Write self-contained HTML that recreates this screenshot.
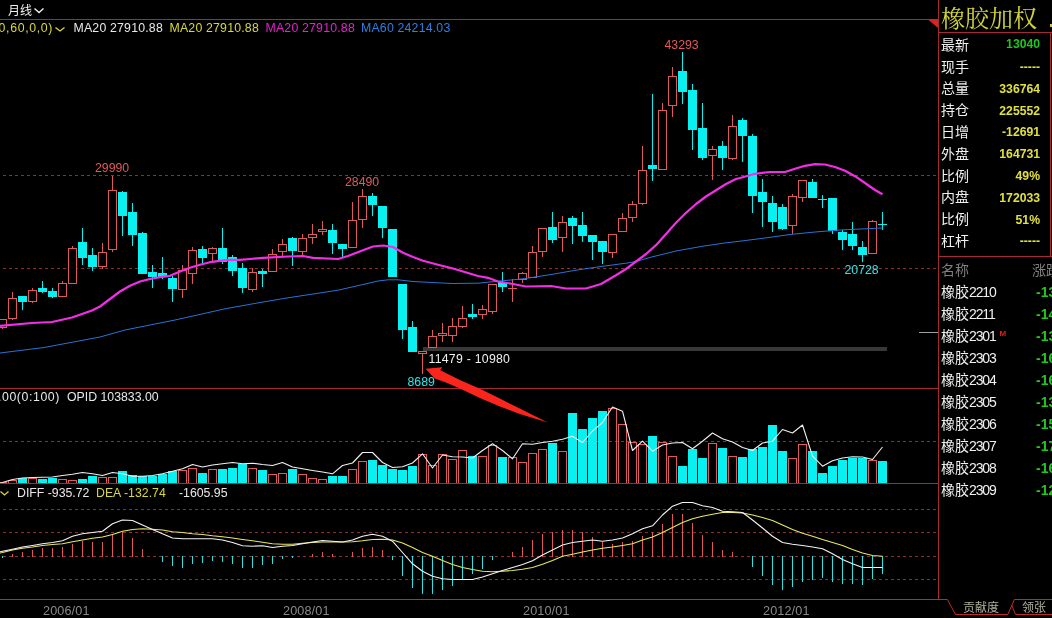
<!DOCTYPE html>
<html lang="zh-CN"><head><meta charset="utf-8"><title>橡胶加权 月线</title>
<style>
html,body{margin:0;padding:0;background:#000;width:1052px;height:618px;overflow:hidden}
svg{will-change:transform}
svg text{white-space:pre}
</style></head><body>
<svg width="1052" height="618" viewBox="0 0 1052 618" style="position:absolute;left:0;top:0">
<rect width="1052" height="618" fill="#000"/>
<g stroke="#863236" stroke-width="1" stroke-dasharray="3 3" stroke-dashoffset="3" shape-rendering="crispEdges">
<line x1="0" y1="175.5" x2="938" y2="175.5"/>
<line x1="0" y1="268.5" x2="938" y2="268.5"/>
<line x1="0" y1="441.5" x2="938" y2="441.5"/>
<line x1="0" y1="509.5" x2="938" y2="509.5"/>
<line x1="0" y1="532.5" x2="938" y2="532.5"/>
<line x1="0" y1="556.5" x2="938" y2="556.5"/>
<line x1="0" y1="579.5" x2="938" y2="579.5"/>
</g>
<rect x="423" y="347" width="464" height="4" fill="#383838" shape-rendering="crispEdges"/>
<rect x="919" y="332" width="19" height="1" fill="#a0a0a0" shape-rendering="crispEdges"/>
<g shape-rendering="crispEdges">
<rect x="2" y="328" width="1" height="1" fill="#de5a5e"/>
<rect x="-1.5" y="319.5" width="8" height="8" fill="#000" stroke="#de5a5e" stroke-width="1"/>
<rect x="12" y="292" width="1" height="6" fill="#de5a5e"/>
<rect x="12" y="319" width="1" height="1" fill="#de5a5e"/>
<rect x="8.5" y="298.5" width="8" height="20" fill="#000" stroke="#de5a5e" stroke-width="1"/>
<rect x="22" y="296" width="1" height="14" fill="#08f0f0"/>
<rect x="18" y="296" width="9" height="6" fill="#08f0f0"/>
<rect x="32" y="288" width="1" height="2" fill="#de5a5e"/>
<rect x="32" y="302" width="1" height="1" fill="#de5a5e"/>
<rect x="28.5" y="290.5" width="8" height="11" fill="#000" stroke="#de5a5e" stroke-width="1"/>
<rect x="42" y="281" width="1" height="12" fill="#08f0f0"/>
<rect x="38" y="288" width="9" height="4" fill="#08f0f0"/>
<rect x="52" y="288" width="1" height="10" fill="#08f0f0"/>
<rect x="48" y="291" width="9" height="6" fill="#08f0f0"/>
<rect x="62" y="281" width="1" height="2" fill="#de5a5e"/>
<rect x="58.5" y="283.5" width="8" height="13" fill="#000" stroke="#de5a5e" stroke-width="1"/>
<rect x="72" y="246" width="1" height="2" fill="#de5a5e"/>
<rect x="68.5" y="248.5" width="8" height="35" fill="#000" stroke="#de5a5e" stroke-width="1"/>
<rect x="82" y="228" width="1" height="37" fill="#08f0f0"/>
<rect x="78" y="242" width="9" height="16" fill="#08f0f0"/>
<rect x="92" y="248" width="1" height="23" fill="#08f0f0"/>
<rect x="88" y="255" width="9" height="12" fill="#08f0f0"/>
<rect x="102" y="243" width="1" height="9" fill="#de5a5e"/>
<rect x="102" y="267" width="1" height="2" fill="#de5a5e"/>
<rect x="98.5" y="252.5" width="8" height="14" fill="#000" stroke="#de5a5e" stroke-width="1"/>
<rect x="112" y="176" width="1" height="14" fill="#de5a5e"/>
<rect x="112" y="250" width="1" height="2" fill="#de5a5e"/>
<rect x="108.5" y="190.5" width="8" height="59" fill="#000" stroke="#de5a5e" stroke-width="1"/>
<rect x="122" y="191" width="1" height="45" fill="#08f0f0"/>
<rect x="118" y="192" width="9" height="24" fill="#08f0f0"/>
<rect x="132" y="203" width="1" height="43" fill="#08f0f0"/>
<rect x="128" y="212" width="9" height="23" fill="#08f0f0"/>
<rect x="142" y="232" width="1" height="42" fill="#08f0f0"/>
<rect x="138" y="233" width="9" height="41" fill="#08f0f0"/>
<rect x="152" y="265" width="1" height="23" fill="#08f0f0"/>
<rect x="148" y="272" width="9" height="5" fill="#08f0f0"/>
<rect x="162" y="257" width="1" height="22" fill="#08f0f0"/>
<rect x="158" y="273" width="9" height="4" fill="#08f0f0"/>
<rect x="172" y="276" width="1" height="26" fill="#08f0f0"/>
<rect x="168" y="278" width="9" height="11" fill="#08f0f0"/>
<rect x="182" y="265" width="1" height="5" fill="#de5a5e"/>
<rect x="182" y="290" width="1" height="8" fill="#de5a5e"/>
<rect x="178.5" y="270.5" width="8" height="19" fill="#000" stroke="#de5a5e" stroke-width="1"/>
<rect x="192" y="247" width="1" height="3" fill="#de5a5e"/>
<rect x="192" y="274" width="1" height="10" fill="#de5a5e"/>
<rect x="188.5" y="250.5" width="8" height="23" fill="#000" stroke="#de5a5e" stroke-width="1"/>
<rect x="202" y="246" width="1" height="18" fill="#08f0f0"/>
<rect x="198" y="249" width="9" height="9" fill="#08f0f0"/>
<rect x="212" y="247" width="1" height="1" fill="#de5a5e"/>
<rect x="212" y="254" width="1" height="8" fill="#de5a5e"/>
<rect x="208.5" y="248.5" width="8" height="5" fill="#000" stroke="#de5a5e" stroke-width="1"/>
<rect x="222" y="228" width="1" height="36" fill="#08f0f0"/>
<rect x="218" y="248" width="9" height="14" fill="#08f0f0"/>
<rect x="232" y="255" width="1" height="21" fill="#08f0f0"/>
<rect x="228" y="257" width="9" height="14" fill="#08f0f0"/>
<rect x="242" y="263" width="1" height="30" fill="#08f0f0"/>
<rect x="238" y="268" width="9" height="20" fill="#08f0f0"/>
<rect x="252" y="268" width="1" height="4" fill="#de5a5e"/>
<rect x="252" y="290" width="1" height="2" fill="#de5a5e"/>
<rect x="248.5" y="272.5" width="8" height="17" fill="#000" stroke="#de5a5e" stroke-width="1"/>
<rect x="262" y="269" width="1" height="18" fill="#08f0f0"/>
<rect x="258" y="271" width="9" height="3" fill="#08f0f0"/>
<rect x="272" y="249" width="1" height="5" fill="#de5a5e"/>
<rect x="268.5" y="254.5" width="8" height="17" fill="#000" stroke="#de5a5e" stroke-width="1"/>
<rect x="282" y="239" width="1" height="5" fill="#de5a5e"/>
<rect x="282" y="252" width="1" height="5" fill="#de5a5e"/>
<rect x="278.5" y="244.5" width="8" height="7" fill="#000" stroke="#de5a5e" stroke-width="1"/>
<rect x="292" y="237" width="1" height="29" fill="#08f0f0"/>
<rect x="288" y="238" width="9" height="13" fill="#08f0f0"/>
<rect x="302" y="234" width="1" height="4" fill="#de5a5e"/>
<rect x="302" y="252" width="1" height="3" fill="#de5a5e"/>
<rect x="298.5" y="238.5" width="8" height="13" fill="#000" stroke="#de5a5e" stroke-width="1"/>
<rect x="312" y="224" width="1" height="10" fill="#de5a5e"/>
<rect x="312" y="238" width="1" height="6" fill="#de5a5e"/>
<rect x="308.5" y="234.5" width="8" height="3" fill="#000" stroke="#de5a5e" stroke-width="1"/>
<rect x="322" y="221" width="1" height="8" fill="#de5a5e"/>
<rect x="322" y="232" width="1" height="3" fill="#de5a5e"/>
<rect x="318.5" y="229.5" width="8" height="2" fill="#000" stroke="#de5a5e" stroke-width="1"/>
<rect x="332" y="224" width="1" height="30" fill="#08f0f0"/>
<rect x="328" y="230" width="9" height="13" fill="#08f0f0"/>
<rect x="342" y="244" width="1" height="13" fill="#08f0f0"/>
<rect x="338" y="244" width="9" height="5" fill="#08f0f0"/>
<rect x="352" y="202" width="1" height="18" fill="#de5a5e"/>
<rect x="348.5" y="220.5" width="8" height="27" fill="#000" stroke="#de5a5e" stroke-width="1"/>
<rect x="362" y="189" width="1" height="7" fill="#de5a5e"/>
<rect x="362" y="220" width="1" height="8" fill="#de5a5e"/>
<rect x="358.5" y="196.5" width="8" height="23" fill="#000" stroke="#de5a5e" stroke-width="1"/>
<rect x="372" y="193" width="1" height="23" fill="#08f0f0"/>
<rect x="368" y="196" width="9" height="9" fill="#08f0f0"/>
<rect x="382" y="206" width="1" height="32" fill="#08f0f0"/>
<rect x="378" y="206" width="9" height="22" fill="#08f0f0"/>
<rect x="392" y="229" width="1" height="48" fill="#08f0f0"/>
<rect x="388" y="229" width="9" height="48" fill="#08f0f0"/>
<rect x="402" y="284" width="1" height="55" fill="#08f0f0"/>
<rect x="398" y="284" width="9" height="46" fill="#08f0f0"/>
<rect x="412" y="321" width="1" height="31" fill="#08f0f0"/>
<rect x="408" y="327" width="9" height="25" fill="#08f0f0"/>
<rect x="422" y="354" width="1" height="20" fill="#de5a5e"/>
<rect x="418.5" y="351.5" width="8" height="2" fill="#000" stroke="#de5a5e" stroke-width="1"/>
<rect x="432" y="330" width="1" height="6" fill="#de5a5e"/>
<rect x="428.5" y="336.5" width="8" height="11" fill="#000" stroke="#de5a5e" stroke-width="1"/>
<rect x="442" y="323" width="1" height="10" fill="#de5a5e"/>
<rect x="442" y="336" width="1" height="6" fill="#de5a5e"/>
<rect x="438.5" y="333.5" width="8" height="2" fill="#000" stroke="#de5a5e" stroke-width="1"/>
<rect x="452" y="318" width="1" height="8" fill="#de5a5e"/>
<rect x="452" y="336" width="1" height="6" fill="#de5a5e"/>
<rect x="448.5" y="326.5" width="8" height="9" fill="#000" stroke="#de5a5e" stroke-width="1"/>
<rect x="462" y="306" width="1" height="12" fill="#de5a5e"/>
<rect x="462" y="327" width="1" height="1" fill="#de5a5e"/>
<rect x="458.5" y="318.5" width="8" height="8" fill="#000" stroke="#de5a5e" stroke-width="1"/>
<rect x="472" y="304" width="1" height="15" fill="#08f0f0"/>
<rect x="468" y="314" width="9" height="3" fill="#08f0f0"/>
<rect x="482" y="305" width="1" height="4" fill="#de5a5e"/>
<rect x="482" y="315" width="1" height="4" fill="#de5a5e"/>
<rect x="478.5" y="309.5" width="8" height="5" fill="#000" stroke="#de5a5e" stroke-width="1"/>
<rect x="492" y="312" width="1" height="2" fill="#de5a5e"/>
<rect x="488.5" y="284.5" width="8" height="27" fill="#000" stroke="#de5a5e" stroke-width="1"/>
<rect x="502" y="272" width="1" height="20" fill="#08f0f0"/>
<rect x="498" y="282" width="9" height="5" fill="#08f0f0"/>
<rect x="512" y="279" width="1" height="9" fill="#de5a5e"/>
<rect x="512" y="289" width="1" height="13" fill="#de5a5e"/>
<rect x="508" y="288" width="9" height="1" fill="#de5a5e"/>
<rect x="522" y="272" width="1" height="1" fill="#de5a5e"/>
<rect x="522" y="280" width="1" height="3" fill="#de5a5e"/>
<rect x="518.5" y="273.5" width="8" height="6" fill="#000" stroke="#de5a5e" stroke-width="1"/>
<rect x="532" y="246" width="1" height="6" fill="#de5a5e"/>
<rect x="528.5" y="252.5" width="8" height="25" fill="#000" stroke="#de5a5e" stroke-width="1"/>
<rect x="542" y="252" width="1" height="5" fill="#de5a5e"/>
<rect x="538.5" y="228.5" width="8" height="23" fill="#000" stroke="#de5a5e" stroke-width="1"/>
<rect x="552" y="212" width="1" height="31" fill="#08f0f0"/>
<rect x="548" y="227" width="9" height="13" fill="#08f0f0"/>
<rect x="562" y="216" width="1" height="6" fill="#de5a5e"/>
<rect x="562" y="238" width="1" height="14" fill="#de5a5e"/>
<rect x="558.5" y="222.5" width="8" height="15" fill="#000" stroke="#de5a5e" stroke-width="1"/>
<rect x="572" y="216" width="1" height="28" fill="#08f0f0"/>
<rect x="568" y="218" width="9" height="8" fill="#08f0f0"/>
<rect x="582" y="212" width="1" height="30" fill="#08f0f0"/>
<rect x="578" y="225" width="9" height="11" fill="#08f0f0"/>
<rect x="592" y="235" width="1" height="25" fill="#08f0f0"/>
<rect x="588" y="235" width="9" height="7" fill="#08f0f0"/>
<rect x="602" y="241" width="1" height="23" fill="#08f0f0"/>
<rect x="598" y="241" width="9" height="11" fill="#08f0f0"/>
<rect x="612" y="253" width="1" height="5" fill="#de5a5e"/>
<rect x="608.5" y="234.5" width="8" height="18" fill="#000" stroke="#de5a5e" stroke-width="1"/>
<rect x="622" y="213" width="1" height="5" fill="#de5a5e"/>
<rect x="618.5" y="218.5" width="8" height="13" fill="#000" stroke="#de5a5e" stroke-width="1"/>
<rect x="632" y="201" width="1" height="3" fill="#de5a5e"/>
<rect x="632" y="218" width="1" height="4" fill="#de5a5e"/>
<rect x="628.5" y="204.5" width="8" height="13" fill="#000" stroke="#de5a5e" stroke-width="1"/>
<rect x="642" y="146" width="1" height="24" fill="#de5a5e"/>
<rect x="642" y="204" width="1" height="1" fill="#de5a5e"/>
<rect x="638.5" y="170.5" width="8" height="33" fill="#000" stroke="#de5a5e" stroke-width="1"/>
<rect x="652" y="94" width="1" height="87" fill="#08f0f0"/>
<rect x="648" y="165" width="9" height="4" fill="#08f0f0"/>
<rect x="662" y="103" width="1" height="7" fill="#de5a5e"/>
<rect x="658.5" y="110.5" width="8" height="59" fill="#000" stroke="#de5a5e" stroke-width="1"/>
<rect x="672" y="67" width="1" height="9" fill="#de5a5e"/>
<rect x="672" y="106" width="1" height="11" fill="#de5a5e"/>
<rect x="668.5" y="76.5" width="8" height="29" fill="#000" stroke="#de5a5e" stroke-width="1"/>
<rect x="682" y="52" width="1" height="52" fill="#08f0f0"/>
<rect x="678" y="71" width="9" height="21" fill="#08f0f0"/>
<rect x="692" y="84" width="1" height="66" fill="#08f0f0"/>
<rect x="688" y="90" width="9" height="40" fill="#08f0f0"/>
<rect x="702" y="103" width="1" height="57" fill="#08f0f0"/>
<rect x="698" y="128" width="9" height="30" fill="#08f0f0"/>
<rect x="712" y="146" width="1" height="3" fill="#de5a5e"/>
<rect x="712" y="156" width="1" height="24" fill="#de5a5e"/>
<rect x="708.5" y="149.5" width="8" height="6" fill="#000" stroke="#de5a5e" stroke-width="1"/>
<rect x="722" y="141" width="1" height="29" fill="#08f0f0"/>
<rect x="718" y="146" width="9" height="12" fill="#08f0f0"/>
<rect x="732" y="115" width="1" height="11" fill="#de5a5e"/>
<rect x="732" y="159" width="1" height="1" fill="#de5a5e"/>
<rect x="728.5" y="126.5" width="8" height="32" fill="#000" stroke="#de5a5e" stroke-width="1"/>
<rect x="742" y="118" width="1" height="44" fill="#08f0f0"/>
<rect x="738" y="120" width="9" height="16" fill="#08f0f0"/>
<rect x="752" y="134" width="1" height="79" fill="#08f0f0"/>
<rect x="748" y="136" width="9" height="60" fill="#08f0f0"/>
<rect x="762" y="179" width="1" height="48" fill="#08f0f0"/>
<rect x="758" y="192" width="9" height="10" fill="#08f0f0"/>
<rect x="772" y="196" width="1" height="36" fill="#08f0f0"/>
<rect x="768" y="203" width="9" height="19" fill="#08f0f0"/>
<rect x="782" y="204" width="1" height="26" fill="#08f0f0"/>
<rect x="778" y="207" width="9" height="22" fill="#08f0f0"/>
<rect x="792" y="194" width="1" height="2" fill="#de5a5e"/>
<rect x="792" y="226" width="1" height="8" fill="#de5a5e"/>
<rect x="788.5" y="196.5" width="8" height="29" fill="#000" stroke="#de5a5e" stroke-width="1"/>
<rect x="802" y="198" width="1" height="4" fill="#de5a5e"/>
<rect x="798.5" y="180.5" width="8" height="17" fill="#000" stroke="#de5a5e" stroke-width="1"/>
<rect x="812" y="179" width="1" height="19" fill="#08f0f0"/>
<rect x="808" y="182" width="9" height="16" fill="#08f0f0"/>
<rect x="822" y="195" width="1" height="13" fill="#08f0f0"/>
<rect x="818" y="199" width="9" height="1" fill="#08f0f0"/>
<rect x="832" y="198" width="1" height="36" fill="#08f0f0"/>
<rect x="828" y="198" width="9" height="33" fill="#08f0f0"/>
<rect x="842" y="230" width="1" height="20" fill="#08f0f0"/>
<rect x="838" y="232" width="9" height="8" fill="#08f0f0"/>
<rect x="852" y="222" width="1" height="28" fill="#08f0f0"/>
<rect x="848" y="234" width="9" height="12" fill="#08f0f0"/>
<rect x="862" y="241" width="1" height="21" fill="#08f0f0"/>
<rect x="858" y="247" width="9" height="8" fill="#08f0f0"/>
<rect x="872" y="220" width="1" height="1" fill="#de5a5e"/>
<rect x="868.5" y="221.5" width="8" height="32" fill="#000" stroke="#de5a5e" stroke-width="1"/>
<rect x="882" y="212" width="1" height="18" fill="#08f0f0"/>
<rect x="878" y="224" width="9" height="1" fill="#08f0f0"/>
</g>
<path d="M0.0,353.0 L44.0,347.5 L100.0,337.0 L125.0,330.0 L175.0,320.0 L225.0,308.8 L263.0,302.0 L288.0,297.8 L313.0,294.0 L338.0,290.2 L363.0,284.5 L378.0,281.0 L388.0,279.8 L398.0,279.8 L413.0,281.5 L438.0,282.8 L453.0,283.5 L478.0,283.2 L498.0,281.2 L513.0,279.8 L526.0,278.4 L551.0,274.5 L576.0,270.2 L601.0,266.5 L626.0,263.2 L636.0,261.5 L651.0,257.2 L676.0,251.0 L701.0,246.5 L726.0,242.8 L740.0,241.2 L765.0,238.0 L790.0,234.5 L815.0,232.0 L840.0,230.0 L865.0,228.8 L882.5,228.0" fill="none" stroke="#2a72d4" stroke-width="1" stroke-linejoin="round"/>
<path d="M0.0,325.8 L32.0,323.0 L52.0,322.0 L72.0,317.5 L92.0,310.5 L100.0,306.5 L110.0,299.0 L120.0,291.5 L130.0,285.8 L140.0,281.5 L150.0,279.0 L160.0,277.2 L170.0,275.8 L180.0,271.5 L190.0,267.8 L200.0,264.8 L210.0,262.2 L220.0,260.8 L230.0,259.8 L240.0,259.8 L250.0,259.0 L263.0,257.8 L288.0,256.5 L303.0,256.0 L313.0,257.8 L338.0,259.0 L348.0,256.0 L363.0,250.2 L373.0,246.5 L383.0,245.5 L393.0,247.0 L403.0,252.8 L413.0,257.0 L423.0,260.8 L438.0,264.8 L453.0,268.5 L463.0,271.5 L478.0,276.0 L488.0,277.8 L498.0,281.5 L513.0,284.0 L526.0,286.5 L551.0,286.0 L566.0,288.5 L586.0,288.5 L601.0,284.0 L616.0,275.2 L626.0,269.0 L636.0,261.5 L646.0,254.0 L656.0,245.2 L666.0,234.0 L676.0,222.8 L686.0,212.8 L696.0,204.0 L706.0,196.5 L716.0,190.2 L726.0,184.0 L736.0,179.0 L740.0,178.0 L755.0,173.8 L770.0,172.0 L785.0,172.0 L795.0,168.8 L805.0,165.8 L815.0,164.2 L825.0,164.5 L835.0,167.0 L845.0,170.8 L855.0,176.2 L865.0,183.0 L875.0,190.0 L882.5,194.2" fill="none" stroke="#f22ee6" stroke-width="2.2" stroke-linejoin="round"/>
<g shape-rendering="crispEdges">
<rect x="-1.5" y="482.5" width="8" height="1" fill="none" stroke="#de5a5e" stroke-width="1"/>
<rect x="8.5" y="480.5" width="8" height="3" fill="none" stroke="#de5a5e" stroke-width="1"/>
<rect x="18" y="478" width="9" height="5" fill="#08f0f0"/>
<rect x="28.5" y="478.5" width="8" height="5" fill="none" stroke="#de5a5e" stroke-width="1"/>
<rect x="38" y="479" width="9" height="4" fill="#08f0f0"/>
<rect x="48" y="478" width="9" height="5" fill="#08f0f0"/>
<rect x="58.5" y="479.5" width="8" height="4" fill="none" stroke="#de5a5e" stroke-width="1"/>
<rect x="68.5" y="480.5" width="8" height="3" fill="none" stroke="#de5a5e" stroke-width="1"/>
<rect x="78" y="479" width="9" height="4" fill="#08f0f0"/>
<rect x="88" y="476" width="9" height="7" fill="#08f0f0"/>
<rect x="98.5" y="477.5" width="8" height="6" fill="none" stroke="#de5a5e" stroke-width="1"/>
<rect x="108.5" y="477.5" width="8" height="6" fill="none" stroke="#de5a5e" stroke-width="1"/>
<rect x="118" y="471" width="9" height="12" fill="#08f0f0"/>
<rect x="128" y="475" width="9" height="8" fill="#08f0f0"/>
<rect x="138" y="476" width="9" height="7" fill="#08f0f0"/>
<rect x="148" y="476" width="9" height="7" fill="#08f0f0"/>
<rect x="158" y="474" width="9" height="9" fill="#08f0f0"/>
<rect x="168" y="471" width="9" height="12" fill="#08f0f0"/>
<rect x="178.5" y="470.5" width="8" height="13" fill="none" stroke="#de5a5e" stroke-width="1"/>
<rect x="188.5" y="468.5" width="8" height="15" fill="none" stroke="#de5a5e" stroke-width="1"/>
<rect x="198" y="473" width="9" height="10" fill="#08f0f0"/>
<rect x="208.5" y="469.5" width="8" height="14" fill="none" stroke="#de5a5e" stroke-width="1"/>
<rect x="218" y="469" width="9" height="14" fill="#08f0f0"/>
<rect x="228" y="468" width="9" height="15" fill="#08f0f0"/>
<rect x="238" y="464" width="9" height="19" fill="#08f0f0"/>
<rect x="248.5" y="468.5" width="8" height="15" fill="none" stroke="#de5a5e" stroke-width="1"/>
<rect x="258" y="470" width="9" height="13" fill="#08f0f0"/>
<rect x="268.5" y="474.5" width="8" height="9" fill="none" stroke="#de5a5e" stroke-width="1"/>
<rect x="278.5" y="473.5" width="8" height="10" fill="none" stroke="#de5a5e" stroke-width="1"/>
<rect x="288" y="469" width="9" height="14" fill="#08f0f0"/>
<rect x="298.5" y="474.5" width="8" height="9" fill="none" stroke="#de5a5e" stroke-width="1"/>
<rect x="308.5" y="478.5" width="8" height="5" fill="none" stroke="#de5a5e" stroke-width="1"/>
<rect x="318.5" y="479.5" width="8" height="4" fill="none" stroke="#de5a5e" stroke-width="1"/>
<rect x="328" y="476" width="9" height="7" fill="#08f0f0"/>
<rect x="338" y="476" width="9" height="7" fill="#08f0f0"/>
<rect x="348.5" y="469.5" width="8" height="14" fill="none" stroke="#de5a5e" stroke-width="1"/>
<rect x="358.5" y="461.5" width="8" height="22" fill="none" stroke="#de5a5e" stroke-width="1"/>
<rect x="368" y="460" width="9" height="23" fill="#08f0f0"/>
<rect x="378" y="465" width="9" height="18" fill="#08f0f0"/>
<rect x="388" y="469" width="9" height="14" fill="#08f0f0"/>
<rect x="398" y="470" width="9" height="13" fill="#08f0f0"/>
<rect x="408" y="466" width="9" height="17" fill="#08f0f0"/>
<rect x="418.5" y="454.5" width="8" height="29" fill="none" stroke="#de5a5e" stroke-width="1"/>
<rect x="428.5" y="465.5" width="8" height="18" fill="none" stroke="#de5a5e" stroke-width="1"/>
<rect x="438.5" y="454.5" width="8" height="29" fill="none" stroke="#de5a5e" stroke-width="1"/>
<rect x="448.5" y="459.5" width="8" height="24" fill="none" stroke="#de5a5e" stroke-width="1"/>
<rect x="458.5" y="450.5" width="8" height="33" fill="none" stroke="#de5a5e" stroke-width="1"/>
<rect x="468" y="456" width="9" height="27" fill="#08f0f0"/>
<rect x="478.5" y="456.5" width="8" height="27" fill="none" stroke="#de5a5e" stroke-width="1"/>
<rect x="488.5" y="445.5" width="8" height="38" fill="none" stroke="#de5a5e" stroke-width="1"/>
<rect x="498" y="457" width="9" height="26" fill="#08f0f0"/>
<rect x="508.5" y="457.5" width="8" height="26" fill="none" stroke="#de5a5e" stroke-width="1"/>
<rect x="518.5" y="462.5" width="8" height="21" fill="none" stroke="#de5a5e" stroke-width="1"/>
<rect x="528.5" y="453.5" width="8" height="30" fill="none" stroke="#de5a5e" stroke-width="1"/>
<rect x="538.5" y="449.5" width="8" height="34" fill="none" stroke="#de5a5e" stroke-width="1"/>
<rect x="548" y="443" width="9" height="40" fill="#08f0f0"/>
<rect x="558.5" y="451.5" width="8" height="32" fill="none" stroke="#de5a5e" stroke-width="1"/>
<rect x="568" y="413" width="9" height="70" fill="#08f0f0"/>
<rect x="578" y="429" width="9" height="54" fill="#08f0f0"/>
<rect x="588" y="418" width="9" height="65" fill="#08f0f0"/>
<rect x="598" y="411" width="9" height="72" fill="#08f0f0"/>
<rect x="608.5" y="408.5" width="8" height="75" fill="none" stroke="#de5a5e" stroke-width="1"/>
<rect x="618.5" y="424.5" width="8" height="59" fill="none" stroke="#de5a5e" stroke-width="1"/>
<rect x="628.5" y="442.5" width="8" height="41" fill="none" stroke="#de5a5e" stroke-width="1"/>
<rect x="638.5" y="444.5" width="8" height="39" fill="none" stroke="#de5a5e" stroke-width="1"/>
<rect x="648" y="436" width="9" height="47" fill="#08f0f0"/>
<rect x="658.5" y="442.5" width="8" height="41" fill="none" stroke="#de5a5e" stroke-width="1"/>
<rect x="668.5" y="456.5" width="8" height="27" fill="none" stroke="#de5a5e" stroke-width="1"/>
<rect x="678" y="466" width="9" height="17" fill="#08f0f0"/>
<rect x="688" y="449" width="9" height="34" fill="#08f0f0"/>
<rect x="698" y="458" width="9" height="25" fill="#08f0f0"/>
<rect x="708.5" y="443.5" width="8" height="40" fill="none" stroke="#de5a5e" stroke-width="1"/>
<rect x="718" y="448" width="9" height="35" fill="#08f0f0"/>
<rect x="728.5" y="456.5" width="8" height="27" fill="none" stroke="#de5a5e" stroke-width="1"/>
<rect x="738" y="457" width="9" height="26" fill="#08f0f0"/>
<rect x="748" y="449" width="9" height="34" fill="#08f0f0"/>
<rect x="758" y="447" width="9" height="36" fill="#08f0f0"/>
<rect x="768" y="425" width="9" height="58" fill="#08f0f0"/>
<rect x="778" y="451" width="9" height="32" fill="#08f0f0"/>
<rect x="788.5" y="458.5" width="8" height="25" fill="none" stroke="#de5a5e" stroke-width="1"/>
<rect x="798.5" y="444.5" width="8" height="39" fill="none" stroke="#de5a5e" stroke-width="1"/>
<rect x="808" y="451" width="9" height="32" fill="#08f0f0"/>
<rect x="818" y="473" width="9" height="10" fill="#08f0f0"/>
<rect x="828" y="466" width="9" height="17" fill="#08f0f0"/>
<rect x="838" y="460" width="9" height="23" fill="#08f0f0"/>
<rect x="848" y="458" width="9" height="25" fill="#08f0f0"/>
<rect x="858" y="458" width="9" height="25" fill="#08f0f0"/>
<rect x="868.5" y="460.5" width="8" height="23" fill="none" stroke="#de5a5e" stroke-width="1"/>
<rect x="878" y="461" width="9" height="22" fill="#08f0f0"/>
</g>
<path d="M0.0,483.0 L2.5,482.5 L12.5,479.5 L22.5,478.0 L32.5,477.5 L42.5,477.2 L52.5,477.0 L62.5,475.5 L72.5,474.2 L82.5,472.5 L92.5,473.8 L102.5,475.5 L112.5,472.5 L122.5,473.8 L132.5,476.2 L142.5,476.2 L152.5,475.5 L162.5,473.8 L172.5,471.2 L182.5,468.8 L192.5,464.5 L202.5,467.0 L212.5,465.0 L222.5,463.8 L232.5,462.5 L242.5,463.8 L252.5,463.2 L262.5,464.5 L272.5,465.5 L282.5,462.5 L292.5,467.0 L302.5,468.8 L312.5,470.5 L322.5,472.0 L332.5,473.8 L342.5,465.5 L352.5,463.0 L362.5,452.5 L372.5,452.5 L382.5,462.5 L392.5,467.5 L402.5,466.8 L412.5,463.0 L422.5,453.8 L432.5,468.0 L442.5,455.0 L452.5,456.8 L462.5,457.0 L472.5,458.0 L482.5,450.5 L492.5,443.8 L502.5,450.5 L512.5,458.8 L522.5,443.8 L532.5,444.2 L542.5,442.5 L552.5,441.2 L562.5,439.2 L572.5,436.2 L582.5,442.5 L592.5,431.2 L602.5,422.5 L612.5,407.0 L622.5,411.2 L632.5,450.5 L642.5,441.2 L652.5,451.2 L662.5,445.0 L672.5,443.0 L682.5,442.5 L692.5,448.8 L702.5,441.2 L712.5,433.0 L722.5,438.8 L732.5,442.0 L742.5,447.5 L752.5,450.5 L762.5,443.0 L772.5,441.2 L782.5,429.5 L792.5,433.0 L802.5,425.0 L812.5,456.2 L822.5,466.2 L832.5,460.8 L842.5,458.0 L852.5,456.8 L862.5,457.0 L872.5,459.5 L882.5,447.0" fill="none" stroke="#f0f0f0" stroke-width="1.1" stroke-linejoin="round"/>
<g shape-rendering="crispEdges">
<rect x="2" y="556" width="1" height="2" fill="#30e0e0"/>
<rect x="12" y="554" width="1" height="3" fill="#e05858"/>
<rect x="22" y="552" width="1" height="5" fill="#e05858"/>
<rect x="32" y="550" width="1" height="7" fill="#e05858"/>
<rect x="42" y="548" width="1" height="9" fill="#e05858"/>
<rect x="52" y="548" width="1" height="9" fill="#e05858"/>
<rect x="62" y="547" width="1" height="10" fill="#e05858"/>
<rect x="72" y="544" width="1" height="13" fill="#e05858"/>
<rect x="82" y="541" width="1" height="16" fill="#e05858"/>
<rect x="92" y="542" width="1" height="15" fill="#e05858"/>
<rect x="102" y="542" width="1" height="15" fill="#e05858"/>
<rect x="112" y="534" width="1" height="23" fill="#e05858"/>
<rect x="122" y="532" width="1" height="25" fill="#e05858"/>
<rect x="132" y="538" width="1" height="19" fill="#e05858"/>
<rect x="142" y="549" width="1" height="8" fill="#e05858"/>
<rect x="162" y="556" width="1" height="6" fill="#30e0e0"/>
<rect x="172" y="556" width="1" height="10" fill="#30e0e0"/>
<rect x="182" y="556" width="1" height="12" fill="#30e0e0"/>
<rect x="192" y="556" width="1" height="8" fill="#30e0e0"/>
<rect x="202" y="556" width="1" height="7" fill="#30e0e0"/>
<rect x="212" y="556" width="1" height="5" fill="#30e0e0"/>
<rect x="222" y="556" width="1" height="6" fill="#30e0e0"/>
<rect x="232" y="556" width="1" height="8" fill="#30e0e0"/>
<rect x="242" y="556" width="1" height="12" fill="#30e0e0"/>
<rect x="252" y="556" width="1" height="12" fill="#30e0e0"/>
<rect x="262" y="556" width="1" height="9" fill="#30e0e0"/>
<rect x="272" y="556" width="1" height="8" fill="#30e0e0"/>
<rect x="282" y="556" width="1" height="3" fill="#30e0e0"/>
<rect x="292" y="556" width="1" height="2" fill="#30e0e0"/>
<rect x="312" y="554" width="1" height="3" fill="#e05858"/>
<rect x="322" y="552" width="1" height="5" fill="#e05858"/>
<rect x="332" y="554" width="1" height="3" fill="#e05858"/>
<rect x="352" y="552" width="1" height="5" fill="#e05858"/>
<rect x="362" y="548" width="1" height="9" fill="#e05858"/>
<rect x="372" y="547" width="1" height="10" fill="#e05858"/>
<rect x="382" y="550" width="1" height="7" fill="#e05858"/>
<rect x="392" y="556" width="1" height="4" fill="#30e0e0"/>
<rect x="402" y="556" width="1" height="20" fill="#30e0e0"/>
<rect x="412" y="556" width="1" height="32" fill="#30e0e0"/>
<rect x="422" y="556" width="1" height="38" fill="#30e0e0"/>
<rect x="432" y="556" width="1" height="38" fill="#30e0e0"/>
<rect x="442" y="556" width="1" height="34" fill="#30e0e0"/>
<rect x="452" y="556" width="1" height="30" fill="#30e0e0"/>
<rect x="462" y="556" width="1" height="24" fill="#30e0e0"/>
<rect x="472" y="556" width="1" height="18" fill="#30e0e0"/>
<rect x="482" y="556" width="1" height="13" fill="#30e0e0"/>
<rect x="492" y="556" width="1" height="4" fill="#30e0e0"/>
<rect x="512" y="552" width="1" height="5" fill="#e05858"/>
<rect x="522" y="547" width="1" height="10" fill="#e05858"/>
<rect x="532" y="540" width="1" height="17" fill="#e05858"/>
<rect x="542" y="534" width="1" height="23" fill="#e05858"/>
<rect x="552" y="532" width="1" height="25" fill="#e05858"/>
<rect x="562" y="530" width="1" height="27" fill="#e05858"/>
<rect x="572" y="530" width="1" height="27" fill="#e05858"/>
<rect x="582" y="532" width="1" height="25" fill="#e05858"/>
<rect x="592" y="537" width="1" height="20" fill="#e05858"/>
<rect x="602" y="542" width="1" height="15" fill="#e05858"/>
<rect x="612" y="544" width="1" height="13" fill="#e05858"/>
<rect x="622" y="542" width="1" height="15" fill="#e05858"/>
<rect x="632" y="541" width="1" height="16" fill="#e05858"/>
<rect x="642" y="536" width="1" height="21" fill="#e05858"/>
<rect x="652" y="532" width="1" height="25" fill="#e05858"/>
<rect x="662" y="524" width="1" height="33" fill="#e05858"/>
<rect x="672" y="514" width="1" height="43" fill="#e05858"/>
<rect x="682" y="514" width="1" height="43" fill="#e05858"/>
<rect x="692" y="523" width="1" height="34" fill="#e05858"/>
<rect x="702" y="535" width="1" height="22" fill="#e05858"/>
<rect x="712" y="542" width="1" height="15" fill="#e05858"/>
<rect x="722" y="550" width="1" height="7" fill="#e05858"/>
<rect x="732" y="552" width="1" height="5" fill="#e05858"/>
<rect x="752" y="556" width="1" height="11" fill="#30e0e0"/>
<rect x="762" y="556" width="1" height="20" fill="#30e0e0"/>
<rect x="772" y="556" width="1" height="29" fill="#30e0e0"/>
<rect x="782" y="556" width="1" height="34" fill="#30e0e0"/>
<rect x="792" y="556" width="1" height="31" fill="#30e0e0"/>
<rect x="802" y="556" width="1" height="26" fill="#30e0e0"/>
<rect x="812" y="556" width="1" height="24" fill="#30e0e0"/>
<rect x="822" y="556" width="1" height="22" fill="#30e0e0"/>
<rect x="832" y="556" width="1" height="26" fill="#30e0e0"/>
<rect x="842" y="556" width="1" height="28" fill="#30e0e0"/>
<rect x="852" y="556" width="1" height="28" fill="#30e0e0"/>
<rect x="862" y="556" width="1" height="29" fill="#30e0e0"/>
<rect x="872" y="556" width="1" height="23" fill="#30e0e0"/>
<rect x="882" y="556" width="1" height="18" fill="#30e0e0"/>
</g>
<path d="M0.0,553.0 L2.5,552.5 L12.5,550.0 L22.5,548.2 L32.5,547.0 L42.5,545.5 L52.5,544.5 L62.5,543.8 L72.5,541.8 L82.5,540.0 L92.5,538.2 L102.5,537.0 L112.5,534.5 L122.5,531.2 L132.5,529.5 L142.5,528.8 L152.5,529.2 L162.5,530.0 L172.5,531.8 L182.5,532.5 L192.5,533.8 L202.5,534.5 L212.5,535.8 L222.5,536.8 L232.5,538.0 L242.5,539.5 L252.5,540.8 L262.5,542.2 L272.5,543.8 L282.5,544.2 L292.5,544.2 L302.5,543.2 L312.5,542.5 L322.5,542.0 L332.5,542.0 L342.5,542.0 L352.5,541.8 L362.5,540.8 L372.5,539.5 L382.5,539.2 L392.5,540.0 L402.5,543.0 L412.5,547.5 L422.5,552.5 L432.5,556.2 L442.5,560.5 L452.5,564.5 L462.5,567.5 L472.5,569.5 L482.5,571.2 L492.5,571.8 L502.5,571.2 L512.5,570.5 L522.5,569.2 L532.5,567.5 L542.5,564.2 L552.5,560.5 L562.5,556.2 L572.5,554.2 L582.5,552.0 L592.5,550.0 L602.5,548.2 L612.5,547.0 L622.5,545.5 L632.5,543.8 L642.5,540.0 L652.5,537.0 L662.5,532.5 L672.5,527.5 L682.5,522.5 L692.5,518.8 L702.5,516.2 L712.5,514.2 L722.5,512.5 L732.5,512.5 L742.5,513.0 L752.5,515.0 L762.5,517.5 L772.5,520.5 L782.5,525.0 L792.5,529.5 L802.5,533.2 L812.5,536.2 L822.5,539.5 L832.5,542.5 L842.5,545.5 L852.5,549.5 L862.5,553.0 L872.5,555.5 L882.5,556.2" fill="none" stroke="#e8e860" stroke-width="1.1" stroke-linejoin="round"/>
<path d="M0.0,551.8 L2.5,551.2 L12.5,549.2 L22.5,547.0 L32.5,545.5 L42.5,543.8 L52.5,542.5 L62.5,540.8 L72.5,536.2 L82.5,533.8 L92.5,532.5 L102.5,531.2 L112.5,523.8 L122.5,520.0 L132.5,520.5 L142.5,525.0 L152.5,529.5 L162.5,533.8 L172.5,538.0 L182.5,538.8 L192.5,538.8 L202.5,538.8 L212.5,538.8 L222.5,540.0 L232.5,542.5 L242.5,545.8 L252.5,546.2 L262.5,545.8 L272.5,547.5 L282.5,546.2 L292.5,545.5 L302.5,543.8 L312.5,542.0 L322.5,540.5 L332.5,541.2 L342.5,542.0 L352.5,540.0 L362.5,536.2 L372.5,534.2 L382.5,536.2 L392.5,541.2 L402.5,552.5 L412.5,563.8 L422.5,571.2 L432.5,576.2 L442.5,578.8 L452.5,579.5 L462.5,579.5 L472.5,579.5 L482.5,577.0 L492.5,573.8 L502.5,570.5 L512.5,567.5 L522.5,564.5 L532.5,560.8 L542.5,555.0 L552.5,550.0 L562.5,545.0 L572.5,542.5 L582.5,541.2 L592.5,540.0 L602.5,541.2 L612.5,540.0 L622.5,538.0 L632.5,533.8 L642.5,528.8 L652.5,525.8 L662.5,515.0 L672.5,506.2 L682.5,502.5 L692.5,502.5 L702.5,505.8 L712.5,507.5 L722.5,511.2 L732.5,511.8 L742.5,512.5 L752.5,520.0 L762.5,528.0 L772.5,536.2 L782.5,542.5 L792.5,544.2 L802.5,545.5 L812.5,547.0 L822.5,548.8 L832.5,553.8 L842.5,559.5 L852.5,563.8 L862.5,567.5 L872.5,567.5 L882.5,567.5" fill="none" stroke="#f4f4f4" stroke-width="1.1" stroke-linejoin="round"/>
<g fill="#a52a32" shape-rendering="crispEdges">
<rect x="0" y="19" width="938" height="1"/>
<rect x="0" y="388" width="938" height="1"/>
<rect x="0" y="483" width="938" height="1"/>
<rect x="938" y="0" width="1" height="600"/>
<rect x="938" y="32" width="114" height="1"/>
<rect x="938" y="256" width="114" height="1"/>
<rect x="1050" y="32" width="1" height="225"/>
</g>
<polygon points="928,19.5 938,19.5 938,28" fill="#d02626"/>
<path d="M0,599.5 L947.4,599.5 L955.5,614.5 L1007.8,614.5 L1014.4,599.5 L1052,599.5 M1011.6,605 L1015.6,614.5 L1052,614.5" fill="none" stroke="#c02a2a" stroke-width="1"/>
<polygon points="425.6,368.7 442.2,367.2 440.3,370.2 459.9,380 479.9,388.8 499.9,398.6 519.8,408.6 547.8,422.6 519.8,413.9 499.9,406.6 479.9,397.9 459.9,388.6 446.6,382.8 437.5,379.6 434.6,378.6" fill="#fa261e"/>
<rect x="1050" y="24" width="2" height="3" fill="#c8c832"/>
<text x="8" y="15" fill="#f0f0f0" font-size="12" font-family="Liberation Sans, Noto Sans CJK SC, sans-serif" text-anchor="start" >月线</text>
<path d="M34.5,8.5 L39,12.5 L43.5,8.5" fill="none" stroke="#f0f0f0" stroke-width="1.4"/>
<text x="53" y="32" fill="#d8d83a" font-size="12.3" font-family="Liberation Sans, sans-serif" text-anchor="end" letter-spacing="0.65">(20,60,0,0)</text>
<path d="M55.5,27.5 L60,31 L64.5,27.5" fill="none" stroke="#d8d83a" stroke-width="1.3"/>
<text x="73.5" y="32" fill="#e8e8e8" font-size="12.3" font-family="Liberation Sans, sans-serif" text-anchor="start" letter-spacing="0.2">MA20 27910.88</text>
<text x="169.5" y="32" fill="#d8d83a" font-size="12.3" font-family="Liberation Sans, sans-serif" text-anchor="start" letter-spacing="0.2">MA20 27910.88</text>
<text x="265.5" y="32" fill="#e820d0" font-size="12.3" font-family="Liberation Sans, sans-serif" text-anchor="start" letter-spacing="0.2">MA20 27910.88</text>
<text x="361" y="32" fill="#2f7fe0" font-size="12.3" font-family="Liberation Sans, sans-serif" text-anchor="start" letter-spacing="0.2">MA60 24214.03</text>
<text x="95" y="172" fill="#e05a5a" font-size="12.3" font-family="Liberation Sans, sans-serif" text-anchor="start" >29990</text>
<text x="345" y="186" fill="#e05a5a" font-size="12.3" font-family="Liberation Sans, sans-serif" text-anchor="start" >28490</text>
<text x="664.5" y="49" fill="#e05a5a" font-size="12.3" font-family="Liberation Sans, sans-serif" text-anchor="start" >43293</text>
<text x="844.5" y="274" fill="#2ce8e8" font-size="12.3" font-family="Liberation Sans, sans-serif" text-anchor="start" >20728</text>
<text x="407.5" y="386" fill="#2ce8e8" font-size="12.3" font-family="Liberation Sans, sans-serif" text-anchor="start" >8689</text>
<text x="428.5" y="363" fill="#f0f0f0" font-size="12.3" font-family="Liberation Sans, sans-serif" text-anchor="start" letter-spacing="0.25">11479 - 10980</text>
<text x="60" y="401" fill="#e8e8e8" font-size="12.3" font-family="Liberation Sans, sans-serif" text-anchor="end" letter-spacing="0.6">0.00(0:100)</text>
<text x="67" y="401" fill="#e8e8e8" font-size="12.3" font-family="Liberation Sans, sans-serif" text-anchor="start" >OPID 103833.00</text>
<path d="M0.5,491.5 L4.5,495 L8.5,491.5" fill="none" stroke="#d8d83a" stroke-width="1.3"/>
<text x="17" y="496.5" fill="#e8e8e8" font-size="12.3" font-family="Liberation Sans, sans-serif" text-anchor="start" >DIFF -935.72</text>
<text x="96" y="496.5" fill="#d8d83a" font-size="12.3" font-family="Liberation Sans, sans-serif" text-anchor="start" >DEA -132.74</text>
<text x="179" y="496.5" fill="#e8e8e8" font-size="12.3" font-family="Liberation Sans, sans-serif" text-anchor="start" >-1605.95</text>
<text x="43" y="614.5" fill="#8a8a8a" font-size="12.6" font-family="Liberation Sans, sans-serif" text-anchor="start" letter-spacing="0.15">2006/01</text>
<text x="283" y="614.5" fill="#8a8a8a" font-size="12.6" font-family="Liberation Sans, sans-serif" text-anchor="start" letter-spacing="0.15">2008/01</text>
<text x="523" y="614.5" fill="#8a8a8a" font-size="12.6" font-family="Liberation Sans, sans-serif" text-anchor="start" letter-spacing="0.15">2010/01</text>
<text x="763" y="614.5" fill="#8a8a8a" font-size="12.6" font-family="Liberation Sans, sans-serif" text-anchor="start" letter-spacing="0.15">2012/01</text>
<text x="941" y="27" fill="#d2d238" font-size="24" font-family="Liberation Serif, Noto Serif CJK SC, serif" text-anchor="start" font-weight="400">橡胶加权</text>
<text x="941" y="49.7" fill="#f0f0f0" font-size="14" font-family="Liberation Sans, Noto Sans CJK SC, sans-serif" text-anchor="start" font-weight="400">最新</text>
<text x="1040" y="48.1" fill="#1ec81e" font-size="12.2" font-family="Liberation Sans, sans-serif" text-anchor="end" font-weight="bold">13040</text>
<text x="941" y="71.5" fill="#f0f0f0" font-size="14" font-family="Liberation Sans, Noto Sans CJK SC, sans-serif" text-anchor="start" font-weight="400">现手</text>
<text x="1040" y="70.89999999999999" fill="#e0e040" font-size="12.2" font-family="Liberation Sans, sans-serif" text-anchor="end" font-weight="bold">-----</text>
<text x="941" y="93.3" fill="#f0f0f0" font-size="14" font-family="Liberation Sans, Noto Sans CJK SC, sans-serif" text-anchor="start" font-weight="400">总量</text>
<text x="1040" y="92.69999999999999" fill="#e0e040" font-size="12.2" font-family="Liberation Sans, sans-serif" text-anchor="end" font-weight="bold">336764</text>
<text x="941" y="115.10000000000001" fill="#f0f0f0" font-size="14" font-family="Liberation Sans, Noto Sans CJK SC, sans-serif" text-anchor="start" font-weight="400">持仓</text>
<text x="1040" y="114.5" fill="#e0e040" font-size="12.2" font-family="Liberation Sans, sans-serif" text-anchor="end" font-weight="bold">225552</text>
<text x="941" y="136.89999999999998" fill="#f0f0f0" font-size="14" font-family="Liberation Sans, Noto Sans CJK SC, sans-serif" text-anchor="start" font-weight="400">日增</text>
<text x="1040" y="136.29999999999998" fill="#e0e040" font-size="12.2" font-family="Liberation Sans, sans-serif" text-anchor="end" font-weight="bold">-12691</text>
<text x="941" y="158.7" fill="#f0f0f0" font-size="14" font-family="Liberation Sans, Noto Sans CJK SC, sans-serif" text-anchor="start" font-weight="400">外盘</text>
<text x="1040" y="158.1" fill="#e0e040" font-size="12.2" font-family="Liberation Sans, sans-serif" text-anchor="end" font-weight="bold">164731</text>
<text x="941" y="180.5" fill="#f0f0f0" font-size="14" font-family="Liberation Sans, Noto Sans CJK SC, sans-serif" text-anchor="start" font-weight="400">比例</text>
<text x="1040" y="179.9" fill="#e0e040" font-size="12.2" font-family="Liberation Sans, sans-serif" text-anchor="end" font-weight="bold">49%</text>
<text x="941" y="202.29999999999998" fill="#f0f0f0" font-size="14" font-family="Liberation Sans, Noto Sans CJK SC, sans-serif" text-anchor="start" font-weight="400">内盘</text>
<text x="1040" y="201.7" fill="#e0e040" font-size="12.2" font-family="Liberation Sans, sans-serif" text-anchor="end" font-weight="bold">172033</text>
<text x="941" y="224.1" fill="#f0f0f0" font-size="14" font-family="Liberation Sans, Noto Sans CJK SC, sans-serif" text-anchor="start" font-weight="400">比例</text>
<text x="1040" y="223.5" fill="#e0e040" font-size="12.2" font-family="Liberation Sans, sans-serif" text-anchor="end" font-weight="bold">51%</text>
<text x="941" y="245.9" fill="#f0f0f0" font-size="14" font-family="Liberation Sans, Noto Sans CJK SC, sans-serif" text-anchor="start" font-weight="400">杠杆</text>
<text x="1040" y="245.3" fill="#e0e040" font-size="12.2" font-family="Liberation Sans, sans-serif" text-anchor="end" font-weight="bold">-----</text>
<text x="941" y="274.5" fill="#808080" font-size="14" font-family="Liberation Sans, Noto Sans CJK SC, sans-serif" text-anchor="start" font-weight="400">名称</text>
<text x="1032" y="274.5" fill="#808080" font-size="14" font-family="Liberation Sans, Noto Sans CJK SC, sans-serif" text-anchor="start" font-weight="400">涨跌</text>
<text x="941" y="297.09999999999997" fill="#f0f0f0" font-size="14" font-family="Liberation Sans, Noto Sans CJK SC, sans-serif" font-weight="400">橡胶<tspan letter-spacing="-1.1">2210</tspan></text>
<text x="1036" y="297.4" fill="#1ec81e" font-size="14" font-family="Liberation Sans, sans-serif" text-anchor="start" font-weight="bold">-13</text>
<text x="941" y="319.09999999999997" fill="#f0f0f0" font-size="14" font-family="Liberation Sans, Noto Sans CJK SC, sans-serif" font-weight="400">橡胶<tspan letter-spacing="-1.1">2211</tspan></text>
<text x="1036" y="319.4" fill="#1ec81e" font-size="14" font-family="Liberation Sans, sans-serif" text-anchor="start" font-weight="bold">-14</text>
<text x="941" y="341.09999999999997" fill="#f0f0f0" font-size="14" font-family="Liberation Sans, Noto Sans CJK SC, sans-serif" font-weight="400">橡胶<tspan letter-spacing="-1.1">2301</tspan></text>
<text x="1036" y="341.4" fill="#1ec81e" font-size="14" font-family="Liberation Sans, sans-serif" text-anchor="start" font-weight="bold">-13</text>
<text x="941" y="363.09999999999997" fill="#f0f0f0" font-size="14" font-family="Liberation Sans, Noto Sans CJK SC, sans-serif" font-weight="400">橡胶<tspan letter-spacing="-1.1">2303</tspan></text>
<text x="1036" y="363.4" fill="#1ec81e" font-size="14" font-family="Liberation Sans, sans-serif" text-anchor="start" font-weight="bold">-16</text>
<text x="941" y="385.09999999999997" fill="#f0f0f0" font-size="14" font-family="Liberation Sans, Noto Sans CJK SC, sans-serif" font-weight="400">橡胶<tspan letter-spacing="-1.1">2304</tspan></text>
<text x="1036" y="385.4" fill="#1ec81e" font-size="14" font-family="Liberation Sans, sans-serif" text-anchor="start" font-weight="bold">-16</text>
<text x="941" y="407.09999999999997" fill="#f0f0f0" font-size="14" font-family="Liberation Sans, Noto Sans CJK SC, sans-serif" font-weight="400">橡胶<tspan letter-spacing="-1.1">2305</tspan></text>
<text x="1036" y="407.4" fill="#1ec81e" font-size="14" font-family="Liberation Sans, sans-serif" text-anchor="start" font-weight="bold">-13</text>
<text x="941" y="429.09999999999997" fill="#f0f0f0" font-size="14" font-family="Liberation Sans, Noto Sans CJK SC, sans-serif" font-weight="400">橡胶<tspan letter-spacing="-1.1">2306</tspan></text>
<text x="1036" y="429.4" fill="#1ec81e" font-size="14" font-family="Liberation Sans, sans-serif" text-anchor="start" font-weight="bold">-15</text>
<text x="941" y="451.09999999999997" fill="#f0f0f0" font-size="14" font-family="Liberation Sans, Noto Sans CJK SC, sans-serif" font-weight="400">橡胶<tspan letter-spacing="-1.1">2307</tspan></text>
<text x="1036" y="451.4" fill="#1ec81e" font-size="14" font-family="Liberation Sans, sans-serif" text-anchor="start" font-weight="bold">-17</text>
<text x="941" y="473.09999999999997" fill="#f0f0f0" font-size="14" font-family="Liberation Sans, Noto Sans CJK SC, sans-serif" font-weight="400">橡胶<tspan letter-spacing="-1.1">2308</tspan></text>
<text x="1036" y="473.4" fill="#1ec81e" font-size="14" font-family="Liberation Sans, sans-serif" text-anchor="start" font-weight="bold">-16</text>
<text x="941" y="495.09999999999997" fill="#f0f0f0" font-size="14" font-family="Liberation Sans, Noto Sans CJK SC, sans-serif" font-weight="400">橡胶<tspan letter-spacing="-1.1">2309</tspan></text>
<text x="1036" y="495.4" fill="#1ec81e" font-size="14" font-family="Liberation Sans, sans-serif" text-anchor="start" font-weight="bold">-12</text>
<text x="999.5" y="335.8" fill="#e02020" font-size="8" font-family="Liberation Sans, sans-serif" text-anchor="start" font-weight="bold">M</text>
<text x="963" y="611.5" fill="#b0b0a0" font-size="12" font-family="Liberation Sans, Noto Sans CJK SC, sans-serif" text-anchor="start" font-weight="400">贡献度</text>
<text x="1022" y="611.5" fill="#b0b0a0" font-size="12" font-family="Liberation Sans, Noto Sans CJK SC, sans-serif" text-anchor="start" font-weight="400">领张</text>
</svg>
</body></html>
